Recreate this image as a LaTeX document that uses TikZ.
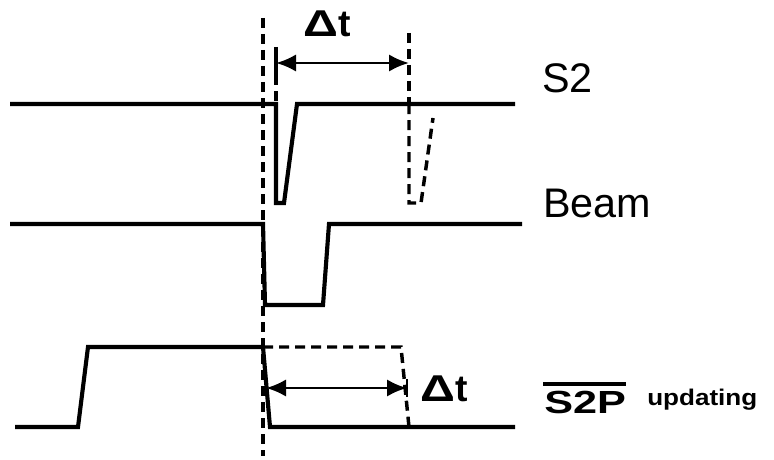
\documentclass[tikz,border=0pt]{standalone}
\usepackage{fontspec}
\setmainfont{Liberation Sans}
\usetikzlibrary{arrows.meta}
\begin{document}
\begin{tikzpicture}[x=0.75pt,y=-0.75pt,
  wave/.style={line width=3.1pt, line join=miter},
  ghost/.style={line width=2.6pt, dash pattern=on 7.5pt off 4.5pt},
  dimarrow/.style={line width=2.1pt, {Latex[length=15pt,width=13pt]}-{Latex[length=15pt,width=13pt]}},
  lbl/.style={anchor=base west, inner sep=0pt, font=\fontsize{31pt}{36pt}\selectfont},
  dlbl/.style={anchor=base west, inner sep=0pt, font=\fontsize{28pt}{32pt}\selectfont\bfseries}]
\useasboundingbox (0,0) rectangle (774,460);
% reference dashed line
\coordinate (r1) at (263,18); \coordinate (r2) at (263,456);
\draw[ghost] (r1) -- (r2);
% S2
\coordinate (s0) at (10,104); \coordinate (s1) at (276,104); \coordinate (s2) at (276,203);
\coordinate (s3) at (284,203); \coordinate (s4) at (297,104); \coordinate (s5) at (515,104);
\draw[wave] (s0) -- (s1) -- (s2) -- (s3) -- (s4) -- (s5);
% ghost S2 pulse
\coordinate (g0) at (409,33); \coordinate (g1) at (409,104); \coordinate (g2) at (409,203);
\coordinate (g3) at (421,203); \coordinate (g4) at (433,118);
\draw[ghost] (g0) -- (g1);
\draw[ghost] (g1) -- (g2) -- (g3) -- (g4);
% top tick
\coordinate (t0) at (276,47); \coordinate (t1) at (276,75);
\draw[line width=2.4pt] (t0) -- (t1);
\draw[ghost] (t1) -- (s1);
% top arrow
\coordinate (a0) at (276,63); \coordinate (a1) at (409,63);
\draw[dimarrow] (a0) -- (a1);
\node[dlbl] (dt1) at (303,37) {\scalebox{1.3}[1]{Δ}t};
% Beam
\coordinate (b0) at (10,224); \coordinate (b1) at (263,224); \coordinate (b2) at (265,305);
\coordinate (b3) at (323,305); \coordinate (b4) at (329,224); \coordinate (b5) at (522,224);
\draw[wave] (b0) -- (b1) -- (b2) -- (b3) -- (b4) -- (b5);
% S2P
\coordinate (p0) at (15,427); \coordinate (p1) at (78,427); \coordinate (p2) at (88,347);
\coordinate (p3) at (263,347); \coordinate (p4) at (270,427); \coordinate (p5) at (515,427);
\draw[wave] (p0) -- (p1) -- (p2) -- (p3) -- (p4) -- (p5);
\coordinate (q1) at (401,347); \coordinate (q2) at (409,427);
\draw[ghost] (p3) -- (q1) -- (q2);
% bottom arrow
\coordinate (c0) at (266,388); \coordinate (c1) at (407,388);
\draw[dimarrow] (c0) -- (c1);
\coordinate (k0) at (407,379); \coordinate (k1) at (407,397);
\draw[line width=2pt] (k0) -- (k1);
\node[dlbl] (dt2) at (420,401) {\scalebox{1.3}[1]{Δ}t};
% labels
\node[lbl] (ls2) at (542,93) {S2};
\node[lbl] (lbeam) at (543,217) {Beam};
\node[anchor=base west, inner sep=0pt, font=\fontsize{24pt}{30pt}\selectfont\bfseries] (ls2p) at (544,413) {\scalebox{1.35}[1]{S2P}};
\coordinate (o0) at (543,384); \coordinate (o1) at (626,384);
\draw[line width=3pt] (o0) -- (o1);
\node[anchor=base west, inner sep=0pt, font=\fontsize{17pt}{20pt}\selectfont\bfseries] (lupd) at (647,405) {\scalebox{1.15}[1]{updating}};
\end{tikzpicture}
\end{document}
